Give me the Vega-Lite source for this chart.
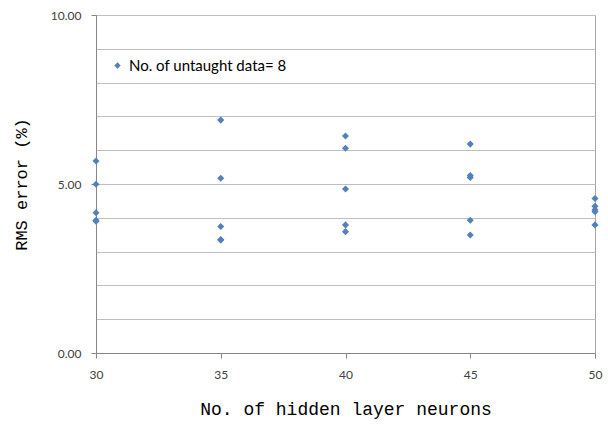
{
  "$schema": "https://vega.github.io/schema/vega-lite/v6.json",
  "width": 499,
  "height": 338,
  "autosize": "none",
  "padding": {"left": 96, "top": 15, "right": 13, "bottom": 76},
  "background": "white",
  "config": {
    "view": {"stroke": "#a6a6a6", "strokeWidth": 1}
  },
  "data": {
    "values": [
      {"neurons": 30, "rms": 5.68, "series": "No. of untaught data= 8"},
      {"neurons": 30, "rms": 4.99, "series": "No. of untaught data= 8"},
      {"neurons": 30, "rms": 4.15, "series": "No. of untaught data= 8"},
      {"neurons": 30, "rms": 3.93, "series": "No. of untaught data= 8"},
      {"neurons": 30, "rms": 3.90, "series": "No. of untaught data= 8"},
      {"neurons": 35, "rms": 6.89, "series": "No. of untaught data= 8"},
      {"neurons": 35, "rms": 5.17, "series": "No. of untaught data= 8"},
      {"neurons": 35, "rms": 3.74, "series": "No. of untaught data= 8"},
      {"neurons": 35, "rms": 3.36, "series": "No. of untaught data= 8"},
      {"neurons": 35, "rms": 3.34, "series": "No. of untaught data= 8"},
      {"neurons": 40, "rms": 6.42, "series": "No. of untaught data= 8"},
      {"neurons": 40, "rms": 6.06, "series": "No. of untaught data= 8"},
      {"neurons": 40, "rms": 4.85, "series": "No. of untaught data= 8"},
      {"neurons": 40, "rms": 3.79, "series": "No. of untaught data= 8"},
      {"neurons": 40, "rms": 3.59, "series": "No. of untaught data= 8"},
      {"neurons": 45, "rms": 6.18, "series": "No. of untaught data= 8"},
      {"neurons": 45, "rms": 5.25, "series": "No. of untaught data= 8"},
      {"neurons": 45, "rms": 5.19, "series": "No. of untaught data= 8"},
      {"neurons": 45, "rms": 3.93, "series": "No. of untaught data= 8"},
      {"neurons": 45, "rms": 3.49, "series": "No. of untaught data= 8"},
      {"neurons": 50, "rms": 4.57, "series": "No. of untaught data= 8"},
      {"neurons": 50, "rms": 4.34, "series": "No. of untaught data= 8"},
      {"neurons": 50, "rms": 4.24, "series": "No. of untaught data= 8"},
      {"neurons": 50, "rms": 4.18, "series": "No. of untaught data= 8"},
      {"neurons": 50, "rms": 3.79, "series": "No. of untaught data= 8"}
    ]
  },
  "mark": {"type": "point", "shape": "diamond", "filled": true, "size": 50, "opacity": 1},
  "encoding": {
    "x": {
      "field": "neurons",
      "type": "quantitative",
      "scale": {"domain": [30, 50], "nice": false, "zero": false},
      "axis": {
        "values": [30, 35, 40, 45, 50],
        "title": "No. of hidden layer neurons",
        "titleFont": "Liberation Mono",
        "titleFontSize": 18,
        "titleFontWeight": "normal",
        "titleColor": "#000000",
        "titlePadding": 20,
        "labelFont": "Lato",
        "labelFontSize": 12,
        "labelColor": "#404040",
        "labelPadding": 11,
        "labelFlush": false,
        "grid": false,
        "domainColor": "#868686",
        "tickColor": "#868686",
        "tickSize": 5
      }
    },
    "y": {
      "field": "rms",
      "type": "quantitative",
      "scale": {"domain": [0, 10], "nice": false},
      "axis": {
        "values": [0, 1, 2, 3, 4, 5, 6, 7, 8, 9, 10],
        "labelExpr": "datum.value % 5 == 0 ? format(datum.value, '.2f') : ''",
        "title": "RMS error (%)",
        "titleFont": "Liberation Mono",
        "titleFontSize": 17,
        "titleFontWeight": "normal",
        "titleColor": "#000000",
        "titlePadding": 20,
        "labelFont": "Lato",
        "labelFontSize": 12,
        "labelColor": "#404040",
        "labelPadding": 10,
        "gridColor": "#bfbfbf",
        "gridWidth": 1.2,
        "domainColor": "#868686",
        "tickColor": "#868686",
        "tickSize": 5,
        "tickOpacity": {"condition": {"test": "datum.value % 5 == 0", "value": 1}, "value": 0}
      }
    },
    "color": {
      "field": "series",
      "type": "nominal",
      "scale": {"range": ["#4F81BD"]},
      "legend": {
        "title": null,
        "orient": "none",
        "legendX": 14,
        "legendY": 43,
        "labelFont": "Lato",
        "labelFontSize": 15,
        "labelColor": "#000000",
        "symbolSize": 40,
        "symbolType": "diamond"
      }
    }
  }
}
